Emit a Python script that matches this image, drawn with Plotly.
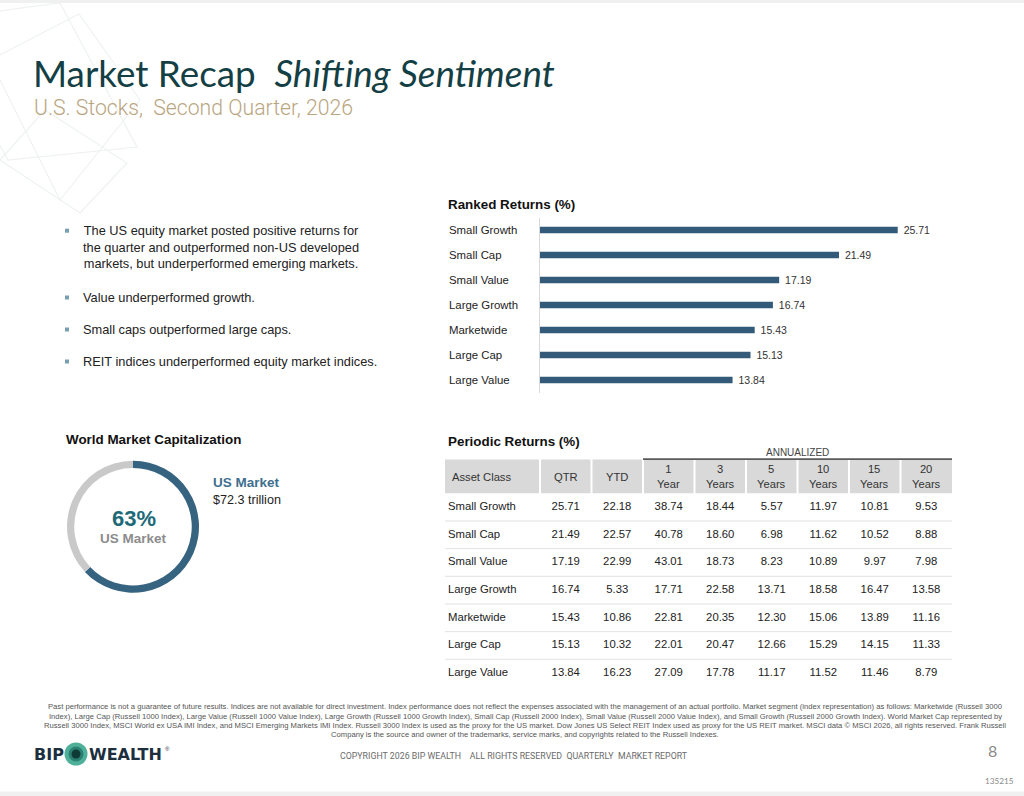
import plotly.graph_objects as go

# ---- page geometry (pixels) ----
W, H = 1024, 796

# ---- data ----
asset_classes = ["Small Growth", "Small Cap", "Small Value", "Large Growth",
                 "Marketwide", "Large Cap", "Large Value"]
qtr  = [25.71, 21.49, 17.19, 16.74, 15.43, 15.13, 13.84]
ytd  = [22.18, 22.57, 22.99, 5.33, 10.86, 10.32, 16.23]
yr1  = [38.74, 40.78, 43.01, 17.71, 22.81, 22.01, 27.09]
yr3  = [18.44, 18.60, 18.73, 22.58, 20.35, 20.47, 17.78]
yr5  = [5.57, 6.98, 8.23, 13.71, 12.30, 12.66, 11.17]
yr10 = [11.97, 11.62, 10.89, 18.58, 15.06, 15.29, 11.52]
yr15 = [10.81, 10.52, 9.97, 16.47, 13.89, 14.15, 11.46]
yr20 = [9.53, 8.88, 7.98, 13.58, 11.16, 11.33, 8.79]
header_labels = ["Asset Class", "QTR", "YTD", "1<br>Year", "3<br>Years", "5<br>Years",
                 "10<br>Years", "15<br>Years", "20<br>Years"]

world_cap_labels = ["US Market", "Non-US Market"]
world_cap_share  = [63, 37]
us_market_value  = "$72.3 trillion"

bullets = [
    "The US equity market posted positive returns for<br>the quarter and outperformed non-US developed<br>markets, but underperformed emerging markets.",
    "Value underperformed growth.",
    "Small caps outperformed large caps.",
    "REIT indices underperformed equity market indices.",
]

disclaimer_lines = [
    "Past performance is not a guarantee of future results. Indices are not available for direct investment. Index performance does not reflect the expenses associated with the management of an actual portfolio. Market segment (index representation) as follows: Marketwide (Russell 3000",
    "Index), Large Cap (Russell 1000 Index), Large Value (Russell 1000 Value Index), Large Growth (Russell 1000 Growth Index), Small Cap (Russell 2000 Index), Small Value (Russell 2000 Value Index), and Small Growth (Russell 2000 Growth Index). World Market Cap represented by",
    "Russell 3000 Index, MSCI World ex USA IMI Index, and MSCI Emerging Markets IMI Index. Russell 3000 Index is used as the proxy for the US market. Dow Jones US Select REIT Index used as proxy for the US REIT market. MSCI data \u00a9 MSCI 2026, all rights reserved. Frank Russell",
    "Company is the source and owner of the trademarks, service marks, and copyrights related to the Russell Indexes.",
]

# ---- styles ----
ARIAL = "Liberation Sans, Arial, sans-serif"
BAR_BLUE = "#335b79"
TEAL_DARK = "#143f45"
TAN = "#b9a580"
TEXT = "#222222"


def px(x):
    return x / W


def py(y):
    return 1 - y / H


fig = go.Figure()
shapes = []
annotations = []


def note(text, x, y, size, color=TEXT, family=ARIAL, xanchor="left", yanchor="middle", **kw):
    annotations.append(dict(text=text, x=px(x), y=py(y), xref="paper", yref="paper",
                            xanchor=xanchor, yanchor=yanchor, showarrow=False,
                            font=dict(size=size, color=color, family=family), **kw))


# ---- page frame + faint decoration ----
shapes.append(dict(type="rect", xref="paper", yref="paper", x0=0, x1=1, y0=py(0), y1=py(3),
                   fillcolor="#f0f0f0", line_width=0))
shapes.append(dict(type="rect", xref="paper", yref="paper", x0=0, x1=1, y0=py(791.5), y1=py(796),
                   fillcolor="#f0f0f0", line_width=0))
for poly in ([(60, 3), (137, 147), (8, 160), (-70, 20)],
             [(79, 14), (140, 100), (60, 200), (-10, 60)],
             [(0, 160), (80, 213), (127, 163), (45, 110)]):
    path = "M " + " L ".join(f"{px(a)},{py(b)}" for a, b in poly) + " Z"
    shapes.append(dict(type="path", xref="paper", yref="paper", path=path,
                       line=dict(color="#eef2f1", width=1.2), layer="below"))

# ---- title block ----
note("Market Recap  <i>Shifting Sentiment</i>", 31, 72.5, 36.8, TEAL_DARK, "Lato, Open Sans, sans-serif")
annotations.append(dict(text="U.S. Stocks,  Second Quarter, 2026", x=px(31.5), y=py(107.5),
                        xref="paper", yref="paper", xanchor="left", yanchor="middle", showarrow=False,
                        font=dict(size=21.2, color=TAN, family="Roboto, sans-serif", weight=300)))

# ---- bullets ----
bullet_y = [230.7, 297.5, 329.5, 361.5]
bullet_mid = [247.1, 297.5, 329.5, 361.5]
for txt, yb, ym in zip(bullets, bullet_y, bullet_mid):
    shapes.append(dict(type="rect", xref="paper", yref="paper",
                       x0=px(65), x1=px(69), y0=py(yb + 2), y1=py(yb - 2),
                       fillcolor="#7a9fb0", line_width=0))
    note(txt, 81, ym, 12.8, TEXT)

# ---- ranked returns bar chart ----
note("<b>Ranked Returns (%)</b>", 445.5, 205, 13.4, "#111111")
fig.add_trace(go.Bar(
    x=qtr, y=asset_classes, orientation="h",
    marker=dict(color=BAR_BLUE, line_width=0), width=0.26,
    texttemplate="\u00a0%{x:.2f}", textposition="outside", constraintext="none",
    textfont=dict(size=10.5, color="#333333", family=ARIAL),
    cliponaxis=False, showlegend=False, xaxis="x", yaxis="y",
))
for lab in asset_classes:
    annotations.append(dict(text=lab, x=px(446.5), xref="paper", y=lab, yref="y",
                            xanchor="left", yanchor="middle", showarrow=False,
                            font=dict(size=11.4, color=TEXT, family=ARIAL)))

# ---- world market cap donut ----
note("<b>World Market Capitalization</b>", 64, 440, 13.4, "#111111")
fig.add_trace(go.Pie(
    values=world_cap_share, labels=world_cap_labels,
    hole=0.89, sort=False, direction="clockwise", rotation=0,
    marker=dict(colors=["#36637f", "#c9c9c9"], line=dict(width=0)),
    textinfo="none", showlegend=False,
    domain=dict(x=[px(66.7), px(199.3)], y=[py(592.7), py(460.7)]),
))
note(f"<b>{world_cap_share[0]}%</b>", 133.5, 518, 22, "#1d6a78", xanchor="center")
note(f"<b>{world_cap_labels[0]}</b>", 133.5, 538, 13.5, "#8c8c8c", xanchor="center")
note(f"<b>{world_cap_labels[0]}</b>", 211, 482.5, 13.5, "#3f6f8e")
note(us_market_value, 211, 500, 12.6, TEXT)

# ---- periodic returns table ----
note("<b>Periodic Returns (%)</b>", 445.5, 441, 13.4, "#111111")
col_widths = [95] + [51.5] * 8
edges = [0]
for w in col_widths:
    edges.append(edges[-1] + w)
centers = [(edges[i] + edges[i + 1]) / 2 for i in range(len(col_widths))]

for j, lab in enumerate(header_labels):
    shapes.append(dict(type="rect", xref="x2", yref="paper",
                       x0=edges[j] + (1 if j > 0 else 0), x1=edges[j + 1] - (1 if j < 8 else 0),
                       y0=py(493.3), y1=py(459.5), fillcolor="#d9d9d9", line_width=0, layer="below"))
    annotations.append(dict(text=lab, xref="x2", yref="paper",
                            x=5 if j == 0 else centers[j], y=py(476.5),
                            xanchor="left" if j == 0 else "center", yanchor="middle",
                            showarrow=False, font=dict(size=11.2, color="#333333", family=ARIAL)))
annotations.append(dict(text="ANNUALIZED", xref="x2", yref="paper",
                        x=(edges[3] + edges[9]) / 2, y=py(452.5), xanchor="center", yanchor="middle",
                        showarrow=False, font=dict(size=10, color="#444444", family=ARIAL)))
shapes.append(dict(type="line", xref="x2", yref="paper", x0=edges[3], x1=edges[9],
                   y0=py(459.2), y1=py(459.2), line=dict(color="#5a5a5a", width=1.8)))
for i in range(len(asset_classes) - 1):
    shapes.append(dict(type="line", xref="x2", yref="y2", x0=0, x1=edges[-1],
                       y0=i + 0.5, y1=i + 0.5, line=dict(color="#e2e2e2", width=1)))

rows = list(range(len(asset_classes)))
fig.add_trace(go.Scatter(
    x=[edges[0] + 3] * len(rows), y=rows, text=asset_classes, mode="text",
    textposition="middle right", textfont=dict(size=11.3, color=TEXT, family=ARIAL),
    showlegend=False, hoverinfo="skip", xaxis="x2", yaxis="y2",
))
for j, col in enumerate([qtr, ytd, yr1, yr3, yr5, yr10, yr15, yr20], start=1):
    fig.add_trace(go.Scatter(
        x=[centers[j]] * len(rows), y=rows, text=[f"{v:.2f}" for v in col], mode="text",
        textposition="middle center", textfont=dict(size=11.3, color=TEXT, family=ARIAL),
        showlegend=False, hoverinfo="skip", xaxis="x2", yaxis="y2",
    ))

# ---- footer ----
for k, line in enumerate(disclaimer_lines):
    note(line, 525, 706.8 + 9.2 * k, 7.65, "#555555", xanchor="center")

note("<b>BIP</b>", 31.5, 754, 16, "#1c2f3e", "DejaVu Sans, sans-serif")
for r, c in ((11.5, "#4fb09a"), (7.5, "#2b8071"), (4.5, "#0e3b36")):
    shapes.append(dict(type="circle", xref="paper", yref="paper",
                       x0=px(76 - r), x1=px(76 + r), y0=py(754 + r), y1=py(754 - r),
                       fillcolor=c, line_width=0))
note("<b>WEALTH</b>", 86.5, 754, 16, "#1c2f3e", "DejaVu Sans, sans-serif")
note("\u00ae", 163, 749, 6, "#1c2f3e")
note("COPYRIGHT 2026 BIP WEALTH    ALL RIGHTS RESERVED  QUARTERLY  MARKET REPORT",
     337.5, 756, 8.8, "#6b6b6b", "Roboto, sans-serif")
note("8", 992.5, 750.5, 16, "#8a8a8a", "Lato, sans-serif", xanchor="center")
note("135215", 999, 781, 8.2, "#8a8a8a", "Lato, sans-serif", xanchor="center")

fig.update_layout(
    width=W, height=H,
    margin=dict(l=0, r=0, t=0, b=0),
    paper_bgcolor="white", plot_bgcolor="rgba(0,0,0,0)",
    xaxis=dict(domain=[px(540), px(957.4)], range=[0, 30], visible=False, fixedrange=True),
    yaxis=dict(domain=[py(392.5), py(217.5)], range=[6.5, -0.5], type="category",
               categoryorder="array", categoryarray=asset_classes,
               showticklabels=False, showgrid=False, zeroline=False, ticks="",
               showline=True, linecolor="#d9d9d9", linewidth=1.2, fixedrange=True),
    xaxis2=dict(domain=[px(445), px(952)], range=[0, edges[-1]], visible=False, fixedrange=True),
    yaxis2=dict(domain=[py(687), py(493.3)], range=[6.5, -0.5], visible=False, fixedrange=True),
    shapes=shapes,
    annotations=annotations,
    showlegend=False,
)

fig.write_html("out.html", config={"displayModeBar": False},
               post_script="document.body.style.margin='0';document.body.style.overflow='hidden';")
